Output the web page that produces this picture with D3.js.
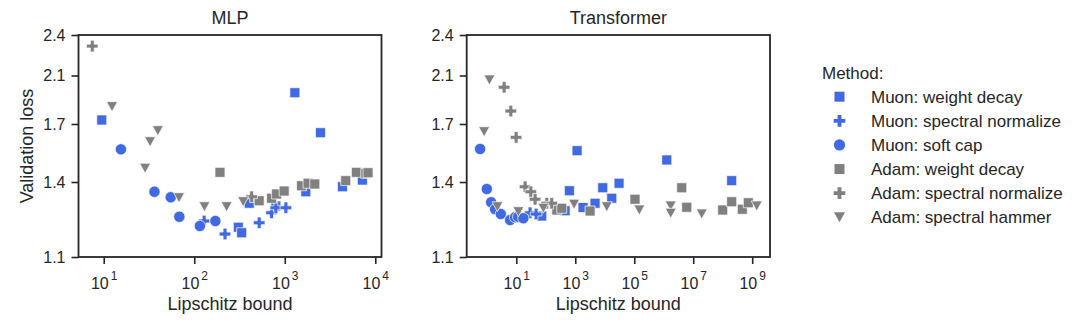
<!DOCTYPE html>
<html>
<head>
<meta charset="utf-8">
<script src="https://cdn.jsdelivr.net/npm/d3@7"></script>
<style>
  body { margin: 0; background: #ffffff; }
  text { font-family: "Liberation Sans", Arial, sans-serif; fill: #262626; }
</style>
</head>
<body>
<svg id="chart" width="1080" height="324"></svg>
<script>
// ---- Data: [Lipschitz bound, validation loss] per method ----
const methods = [
  "Muon: weight decay", "Muon: spectral normalize", "Muon: soft cap",
  "Adam: weight decay", "Adam: spectral normalize", "Adam: spectral hammer"
];

const mlpMuonWD = [[9.4,1.733],[303,1.219],[330,1.197],[400,1.315],[787,1.304],[1276,1.958],[1687,1.361],[2449,1.655],[4285,1.381],[7110,1.410]];
const mlpMuonSN = [[127,1.244],[216,1.192],[515,1.237],[706,1.277],[787,1.297],[1016,1.297]];
const mlpMuonSC = [[15.3,1.569],[35.9,1.361],[54.3,1.339],[67.6,1.261],[114,1.224],[169,1.244]];
const mlpAdamWD = [[190,1.450],[515,1.325],[706,1.335],[802,1.352],[972,1.364],[1514,1.385],[1786,1.395],[2118,1.392],[4656,1.407],[6109,1.450],[7745,1.445],[8207,1.448]];
const mlpAdamSN = [[7.38,2.318],[425,1.341]];
const mlpAdamSH = [[12.2,1.843],[39.1,1.665],[32.1,1.608],[28.3,1.471],[67.1,1.337],[128,1.301],[225,1.301],[343,1.321]];

const tfMuonWD = [[70,1.264],[434,1.285],[607,1.365],[1107,1.562],[1766,1.298],[4508,1.315],[8220,1.377],[16600,1.335],[29400,1.395],[1.22e6,1.514],[1.94e8,1.407]];
const tfMuonSN = [[28.2,1.277],[45.1,1.272]];
const tfMuonSC = [[0.57,1.571],[0.962,1.372],[1.346,1.319],[1.84,1.291],[2.87,1.272],[5.93,1.248],[8.76,1.259],[11.1,1.261],[16.7,1.255]];
const tfAdamWD = [[227,1.288],[335,1.295],[3055,1.284],[1.02e5,1.331],[3.92e6,1.377],[5.8e6,1.299],[9.6e7,1.288],[1.94e8,1.321],[4.44e8,1.291],[7.1e8,1.317]];
const tfAdamSN = [[3.71,2.003],[6.27,1.807],[9.47,1.631],[19.1,1.381],[29.9,1.361],[41.7,1.331],[104,1.315],[153,1.315]];
const tfAdamSH = [[1.18,2.063],[0.78,1.660],[2.2,1.301],[11.3,1.281],[79.7,1.295],[875,1.311],[11250,1.301],[1.43e5,1.288],[1.66e6,1.304],[1.66e6,1.275],[1.87e7,1.272],[1.37e9,1.304]];

const yTicks = [1.1, 1.4, 1.7, 2.1, 2.4];
const mlpXExponents = [1, 2, 3, 4];
const tfXExponents = [1, 3, 5, 7, 9];
const mlpXDomain = [5.2, 11560];
const tfXDomain = [0.2, 3.86e9];

// ---- Styling ----
const BLUE = "#4169e1", GRAY = "#808080", INK = "#262626";
const methodColors = [BLUE, BLUE, BLUE, GRAY, GRAY, GRAY];

// down-pointing triangle centred on its bounding box
const triangleDown = {
  draw(ctx, size) {
    const r = Math.sqrt(size) / 2;
    ctx.moveTo(-r * 1.1, -r);
    ctx.lineTo(r * 1.1, -r);
    ctx.lineTo(0, r);
    ctx.closePath();
  }
};
const methodSymbols = [
  d3.symbol(d3.symbolSquare, 100),
  d3.symbol(d3.symbolCross, 75),
  d3.symbol(d3.symbolCircle, 100),
  d3.symbol(d3.symbolSquare, 100),
  d3.symbol(d3.symbolCross, 75),
  d3.symbol(triangleDown, 100)
];

const svg = d3.select("#chart");
const plotTop = 35, plotBottom = 257;

// Loss axis: the labelled ticks sit at fixed fractions of the panel height
const yTickFrac = [0, 0.3378, 0.5991, 0.8176, 1];
const y = d3.scaleLinear()
  .domain(yTicks)
  .range(yTickFrac.map(f => plotBottom - f * (plotBottom - plotTop)));

const panels = [
  { title: "MLP", left: 78.5, right: 381.5, xDomain: mlpXDomain, xExp: mlpXExponents,
    series: [mlpMuonWD, mlpMuonSN, mlpMuonSC, mlpAdamWD, mlpAdamSN, mlpAdamSH], yLabel: true },
  { title: "Transformer", left: 466.7, right: 770, xDomain: tfXDomain, xExp: tfXExponents,
    series: [tfMuonWD, tfMuonSN, tfMuonSC, tfAdamWD, tfAdamSN, tfAdamSH], yLabel: false }
];

panels.forEach(p => {
  const x = d3.scaleLog().domain(p.xDomain).range([p.left, p.right]);
  const g = svg.append("g");

  // x ticks at powers of ten, labelled 10^n
  const xt = g.append("g").selectAll("g").data(p.xExp).join("g")
    .attr("transform", e => `translate(${x(Math.pow(10, e))},${plotBottom})`);
  xt.append("line").attr("y2", 7).attr("stroke", INK).attr("stroke-width", 1.6);
  const lbl = xt.append("text").attr("y", 32).attr("font-size", 16).attr("text-anchor", "middle");
  lbl.append("tspan").text("10");
  lbl.append("tspan").attr("dy", -9).attr("dx", 2).attr("font-size", 12).text(e => e);

  // y axis
  const yAxis = g.append("g")
    .attr("transform", `translate(${p.left},0)`)
    .call(d3.axisLeft(y).tickValues(yTicks).tickSize(7).tickSizeOuter(0).tickPadding(6).tickFormat(d3.format(".1f")));
  yAxis.select(".domain").remove();
  yAxis.selectAll(".tick line").attr("stroke", INK).attr("stroke-width", 1.6);
  yAxis.selectAll(".tick text").attr("font-size", 16).attr("fill", INK).attr("font-family", "Liberation Sans, Arial, sans-serif");

  // markers (Muon first, Adam on top)
  p.series.forEach((pts, i) => {
    g.append("g").selectAll("path").data(pts).join("path")
      .attr("d", methodSymbols[i])
      .attr("transform", d => `translate(${x(d[0])},${y(d[1])})`)
      .attr("fill", methodColors[i])
      .attr("stroke", "#ffffff")
      .attr("stroke-width", 0.7);
  });

  // frame
  g.append("rect")
    .attr("x", p.left).attr("y", plotTop)
    .attr("width", p.right - p.left).attr("height", plotBottom - plotTop)
    .attr("fill", "none").attr("stroke", INK).attr("stroke-width", 1.8);

  // titles and labels
  const cx = (p.left + p.right) / 2;
  g.append("text").attr("x", cx).attr("y", 24).attr("text-anchor", "middle")
    .attr("font-size", 18).text(p.title);
  g.append("text").attr("x", cx).attr("y", 310).attr("text-anchor", "middle")
    .attr("font-size", 18).text("Lipschitz bound");
  if (p.yLabel) {
    g.append("text")
      .attr("transform", `translate(33,${(plotTop + plotBottom) / 2}) rotate(-90)`)
      .attr("text-anchor", "middle").attr("font-size", 18).text("Validation loss");
  }
});

// ---- Legend ----
const legend = svg.append("g");
legend.append("text").attr("x", 822).attr("y", 79).attr("font-size", 17).text("Method:");
const rowY = d3.scalePoint().domain(methods).range([96.7, 217.3]);
methods.forEach((m, i) => {
  const ry = rowY(m);
  legend.append("path")
    .attr("d", methodSymbols[i])
    .attr("transform", `translate(839.5,${ry})`)
    .attr("fill", methodColors[i]);
  legend.append("text").attr("x", 871).attr("y", ry + 6).attr("font-size", 17).text(m);
});
</script>
</body>
</html>
